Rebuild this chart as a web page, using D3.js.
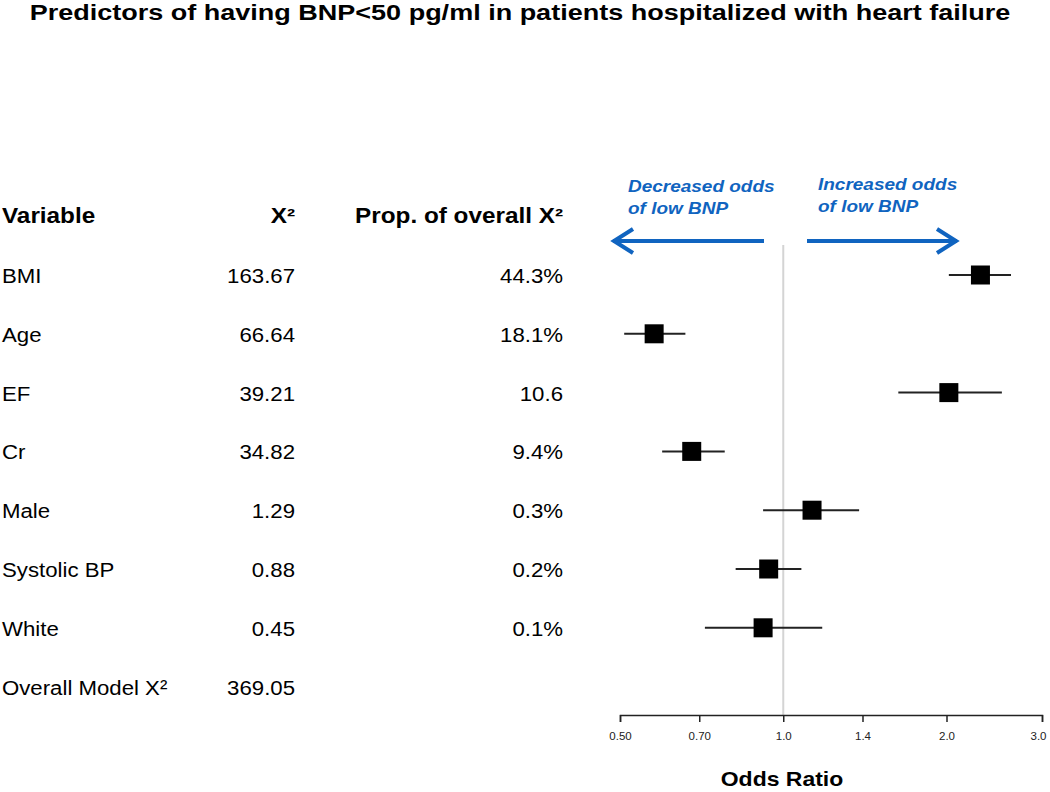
<!DOCTYPE html>
<html>
<head>
<meta charset="utf-8">
<script src="https://cdn.jsdelivr.net/npm/d3@7"></script>
<style>
  html, body { margin: 0; padding: 0; background: #fff; }
  svg { display: block; font-family: 'Liberation Sans', Arial, sans-serif; }
</style>
</head>
<body>
<div id="chart"></div>
<script>
const variables = ['BMI', 'Age', 'EF', 'Cr', 'Male', 'Systolic BP', 'White']
const chiSquare = ['163.67', '66.64', '39.21', '34.82', '1.29', '0.88', '0.45']
const propOfOverall = ['44.3%', '18.1%', '10.6', '9.4%', '0.3%', '0.2%', '0.1%']
const oddsRatio = [2.31, 0.578, 2.02, 0.678, 1.13, 0.94, 0.918]
const ciLower = [2.02, 0.509, 1.63, 0.598, 0.918, 0.817, 0.717]
const ciUpper = [2.63, 0.66, 2.53, 0.78, 1.38, 1.08, 1.18]
const overallLabel = 'Overall Model X²'
const overallChiSquare = '369.05'
const tickValues = [0.5, 0.7, 1.0, 1.4, 2.0, 3.0]
const tickLabels = ['0.50', '0.70', '1.0', '1.4', '2.0', '3.0']

const SIZE = Object.freeze({ WIDTH: 1050, HEIGHT: 792 })
const BLUE = '#1064c0'

const rows = variables.map((v, i) => ({
  name: v, chi: chiSquare[i], prop: propOfOverall[i],
  or: oddsRatio[i], lo: ciLower[i], hi: ciUpper[i]
}))

// the source picture is a bit wider than tall, so widen glyphs a little
const widen = (selection, k) => {
  selection.each(function () {
    const len = this.getComputedTextLength()
    d3.select(this)
      .attr('textLength', len * k)
      .attr('lengthAdjust', 'spacingAndGlyphs')
  })
}

const svg = d3.select('#chart')
  .append('svg')
  .attr('width', SIZE.WIDTH)
  .attr('height', SIZE.HEIGHT)

const xScale = d3.scaleLog()
  .domain([0.5, 3.0])
  .range([620, 1042])
const yScale = d3.scaleLinear()
  .domain([0, variables.length])
  .range([275, 686.6])
const axisY = 715

// title
svg.append('text')
  .attr('x', 520)
  .attr('y', 20)
  .attr('text-anchor', 'middle')
  .style('font-weight', 'bold')
  .style('font-size', '22.5px')
  .text('Predictors of having BNP<50 pg/ml in patients hospitalized with heart failure')
  .call(widen, 1.2)

// table header
const header = svg.append('g')
  .style('font-weight', 'bold')
  .style('font-size', '21.5px')
header.append('text').attr('x', 2).attr('y', 223).text('Variable')
header.append('text').attr('x', 295).attr('y', 223).attr('text-anchor', 'end').text('X²')
header.append('text').attr('x', 563).attr('y', 223).attr('text-anchor', 'end').text('Prop. of overall X²')
header.selectAll('text').call(widen, 1.13)

// table rows
const table = svg.append('g').style('font-size', '20px')
const rowG = table.selectAll('g.row')
  .data(rows)
  .enter()
  .append('g')
  .attr('class', 'row')
  .attr('transform', (d, i) => `translate(0, ${yScale(i) + 8})`)
rowG.append('text').attr('x', 2).text(d => d.name)
rowG.append('text').attr('x', 295).attr('text-anchor', 'end').text(d => d.chi)
rowG.append('text').attr('x', 563).attr('text-anchor', 'end').text(d => d.prop)

table.append('text')
  .attr('x', 2)
  .attr('y', yScale(variables.length) + 8)
  .text(overallLabel)
table.append('text')
  .attr('x', 295)
  .attr('y', yScale(variables.length) + 8)
  .attr('text-anchor', 'end')
  .text(overallChiSquare)
table.selectAll('text').call(widen, 1.11)

// reference line at OR = 1
svg.append('line')
  .attr('x1', xScale(1)).attr('x2', xScale(1))
  .attr('y1', 245).attr('y2', axisY)
  .attr('stroke', '#d4d4d4')
  .attr('stroke-width', 2)

// direction arrows
const arrows = svg.append('g')
  .attr('stroke', BLUE)
  .attr('stroke-width', 4)
  .attr('fill', 'none')
  .attr('stroke-linecap', 'butt')
arrows.append('line').attr('x1', 764).attr('x2', 613).attr('y1', 241).attr('y2', 241)
arrows.append('path').attr('d', 'M633,229 L614,241 L633,253')
arrows.append('line').attr('x1', 807).attr('x2', 957).attr('y1', 241).attr('y2', 241)
arrows.append('path').attr('d', 'M937,229 L956,241 L937,253')

const note = svg.append('g')
  .attr('fill', BLUE)
  .style('font-style', 'italic')
  .style('font-weight', 'bold')
  .style('font-size', '16.5px')
note.append('text').attr('x', 628).attr('y', 192).text('Decreased odds')
note.append('text').attr('x', 628).attr('y', 214).text('of low BNP')
note.append('text').attr('x', 818).attr('y', 190).text('Increased odds')
note.append('text').attr('x', 818).attr('y', 212).text('of low BNP')
note.selectAll('text').call(widen, 1.15)

// confidence intervals and point estimates
const marks = svg.append('g')
marks.selectAll('line.ci')
  .data(rows)
  .enter()
  .append('line')
  .attr('class', 'ci')
  .attr('x1', d => xScale(d.lo))
  .attr('x2', d => xScale(d.hi))
  .attr('y1', (d, i) => yScale(i))
  .attr('y2', (d, i) => yScale(i))
  .attr('stroke', '#222')
  .attr('stroke-width', 2)

const box = 19
marks.selectAll('rect.est')
  .data(rows)
  .enter()
  .append('rect')
  .attr('class', 'est')
  .attr('x', d => xScale(d.or) - box / 2)
  .attr('y', (d, i) => yScale(i) - box / 2)
  .attr('width', box)
  .attr('height', box)
  .attr('fill', '#000')

// x axis
const xAxis = d3.axisBottom(xScale)
  .tickValues(tickValues)
  .tickFormat((d, i) => tickLabels[i])
  .tickSize(7)
  .tickSizeOuter(7)
  .tickPadding(10)

const axisG = svg.append('g')
  .attr('transform', `translate(0, ${axisY})`)
  .call(xAxis)
axisG.selectAll('path, line')
  .attr('stroke', '#222')
  .attr('stroke-width', 1.5)
axisG.selectAll('text')
  .style('font-family', "'Liberation Sans', Arial, sans-serif")
  .style('font-size', '11.5px')
  .attr('fill', '#222')
// keep the last label inside the frame
axisG.selectAll('.tick:last-of-type text').attr('dx', '-4')

svg.append('text')
  .attr('x', 782)
  .attr('y', 786)
  .attr('text-anchor', 'middle')
  .style('font-weight', 'bold')
  .style('font-size', '20.5px')
  .text('Odds Ratio')
  .call(widen, 1.12)
</script>
</body>
</html>
